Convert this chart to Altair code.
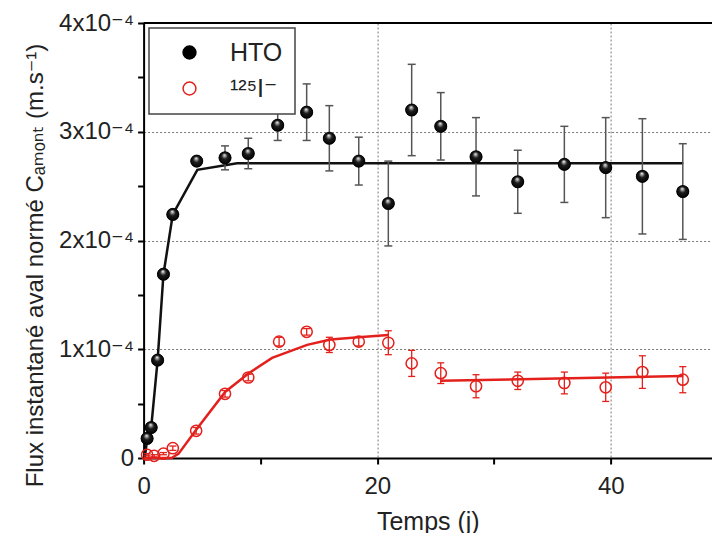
import json
import altair as alt
import pandas as pd

# ---------------- data ----------------
series_names = ["HTO", "¹²⁵I⁻"]

hto_t = [0.3, 0.65, 1.2, 1.7, 2.5, 4.55, 6.97, 8.96, 11.48, 13.96, 15.90, 18.42,
         20.95, 22.95, 25.44, 28.46, 32.03, 36.02, 39.56, 42.70, 46.16]
hto_flux = [0.18e-4, 0.28e-4, 0.90e-4, 1.69e-4, 2.24e-4, 2.73e-4, 2.76e-4, 2.80e-4,
            3.06e-4, 3.18e-4, 2.94e-4, 2.73e-4, 2.34e-4, 3.20e-4, 3.05e-4, 2.77e-4,
            2.54e-4, 2.70e-4, 2.67e-4, 2.59e-4, 2.45e-4]
hto_err = [0.0, 0.0, 0.0, 0.0, 0.0, 0.0, 0.11e-4, 0.14e-4, 0.14e-4, 0.26e-4, 0.30e-4,
           0.22e-4, 0.39e-4, 0.42e-4, 0.31e-4, 0.36e-4, 0.29e-4, 0.35e-4, 0.46e-4,
           0.53e-4, 0.44e-4]

iod_t = [0.3, 0.9, 1.7, 2.5, 4.5, 6.97, 8.96, 11.6, 13.96, 15.9, 18.42, 20.95,
         22.95, 25.44, 28.46, 32.03, 36.02, 39.56, 42.70, 46.16]
iod_flux = [0.03e-4, 0.02e-4, 0.04e-4, 0.09e-4, 0.25e-4, 0.59e-4, 0.74e-4, 1.07e-4,
            1.16e-4, 1.04e-4, 1.07e-4, 1.06e-4, 0.87e-4, 0.78e-4, 0.66e-4, 0.71e-4,
            0.69e-4, 0.65e-4, 0.79e-4, 0.72e-4]
iod_err = [0.01e-4, 0.01e-4, 0.01e-4, 0.02e-4, 0.03e-4, 0.03e-4, 0.03e-4, 0.04e-4,
           0.03e-4, 0.07e-4, 0.04e-4, 0.11e-4, 0.12e-4, 0.095e-4, 0.106e-4, 0.08e-4,
           0.10e-4, 0.13e-4, 0.15e-4, 0.12e-4]

# fitted curves
hto_fit_t = [0.1, 0.3, 0.65, 1.2, 1.7, 2.5, 4.6, 8.0, 46.2]
hto_fit_flux = [0.0, 0.17e-4, 0.28e-4, 0.90e-4, 1.69e-4, 2.24e-4, 2.65e-4, 2.71e-4, 2.71e-4]

iod_fit1_t = [0.0, 2.4, 3.0, 4.5, 7.0, 9.0, 11.0, 14.0, 16.0, 18.4, 20.95]
iod_fit1_flux = [0.0, 0.0, 0.04e-4, 0.26e-4, 0.61e-4, 0.78e-4, 0.92e-4, 1.04e-4,
                 1.09e-4, 1.11e-4, 1.13e-4]
iod_fit2_t = [25.4, 46.2]
iod_fit2_flux = [0.71e-4, 0.755e-4]

x_tick_values = [0, 10, 20, 30, 40]
y_tick_values = [0, 0.5e-4, 1e-4, 1.5e-4, 2e-4, 2.5e-4, 3e-4, 3.5e-4, 4e-4]
y_tick_labels = ["0", "1x10⁻⁴", "2x10⁻⁴", "3x10⁻⁴", "4x10⁻⁴"]

x_title = "Temps (j)"
y_title = "Flux instantané aval normé Cₐₘₒₙₜ (m.s⁻¹)"

# ---------------- tables ----------------
pts = pd.DataFrame({
    "t": hto_t + iod_t,
    "flux": hto_flux + iod_flux,
    "err": hto_err + iod_err,
    "series": [series_names[0]] * len(hto_t) + [series_names[1]] * len(iod_t),
})
pts["lo"] = pts["flux"] - pts["err"]
pts["hi"] = pts["flux"] + pts["err"]

fit_hto = pd.DataFrame({"t": hto_fit_t, "flux": hto_fit_flux})
fit_iod = pd.DataFrame({
    "t": iod_fit1_t + iod_fit2_t,
    "flux": iod_fit1_flux + iod_fit2_flux,
    "seg": ["a"] * len(iod_fit1_t) + ["b"] * len(iod_fit2_t),
})

# ---------------- styling ----------------
FONT = "Liberation Sans, Arial, DejaVu Sans, sans-serif"
TXT = "#222222"
RED = "#e3201b"
W, H = 568.4, 435
X_MAX = 48.66
Y_MAX = 4e-4

y_label_expr = ("abs(datum.value*1e4 - round(datum.value*1e4)) < 0.01 ? "
                + json.dumps(y_tick_labels, ensure_ascii=False)
                + "[round(datum.value*1e4)] : ''")

xaxis = alt.Axis(
    values=x_tick_values,
    labelExpr="datum.value % 20 == 0 ? datum.label : ''",
    tickSize=6, tickWidth=2, tickColor="black",
    domainColor="black", domainWidth=2,
    labelFont=FONT, labelFontSize=24, labelColor=TXT, labelPadding=10,
    labelFlush=False, labelOverlap=False,
    grid=True, gridColor="#7a7a7a", gridDash=[2, 2], gridWidth=1,
    gridOpacity={"condition": {"test": "datum.value == 20 || datum.value == 40", "value": 1}, "value": 0},
    titleFont=FONT, titleFontSize=25, titleFontWeight="normal", titleColor=TXT,
    titleBaseline="alphabetic", titleY=71,
)
yaxis = alt.Axis(
    values=y_tick_values,
    labelExpr=y_label_expr,
    tickSize=6, tickWidth=2, tickColor="black",
    domainColor="black", domainWidth=2,
    labelFont=FONT, labelFontSize=24, labelColor=TXT, labelPadding=4,
    labelFlush=False, labelOverlap=False,
    grid=True, gridColor="#7a7a7a", gridDash=[2, 2], gridWidth=1,
    gridOpacity={"condition": {"test": "datum.value > 0.5e-4 && datum.value < 3.5e-4 && abs(datum.value*1e4 - round(datum.value*1e4)) < 0.01", "value": 1}, "value": 0},
    titleFont=FONT, titleFontSize=24, titleFontWeight="normal", titleColor=TXT,
    titleAngle=270, titleAlign="center", titleBaseline="middle",
    titleX=-108, titleY=242,
)

xs = alt.Scale(domain=[0, X_MAX], nice=False, zero=False)
ys = alt.Scale(domain=[0, Y_MAX], nice=False)


def X(f):
    return alt.X(f, type="quantitative", scale=xs, axis=xaxis, title=x_title)


def Y(f):
    return alt.Y(f, type="quantitative", scale=ys, axis=yaxis, title=y_title)


base = alt.Chart(pts)

line_hto = alt.Chart(fit_hto).mark_line(color="#111111", strokeWidth=2.5).encode(
    x=X("t"), y=Y("flux"))
line_iod = alt.Chart(fit_iod).mark_line(color=RED, strokeWidth=2.5).encode(
    x=X("t"), y=Y("flux"), detail="seg:N")

hto_only = alt.datum.series == series_names[0]
iod_only = alt.datum.series == series_names[1]

err_hto = base.transform_filter(hto_only).mark_rule(color="#555555", strokeWidth=1.5).encode(
    x=X("t"), y=Y("lo"), y2="hi:Q")
cap_hto = base.transform_filter(hto_only).transform_filter("datum.err > 0").transform_fold(
    ["lo", "hi"], as_=["end", "val"]).mark_tick(
    orient="horizontal", size=8, thickness=1.5, color="#555555", opacity=1).encode(
    x=X("t"), y=Y("val:Q"))
err_iod = base.transform_filter(iod_only).mark_rule(color=RED, strokeWidth=1.3).encode(
    x=X("t"), y=Y("lo"), y2="hi:Q")
cap_iod = base.transform_filter(iod_only).transform_fold(
    ["lo", "hi"], as_=["end", "val"]).mark_tick(
    orient="horizontal", size=7, thickness=1.3, color=RED, opacity=1).encode(
    x=X("t"), y=Y("val:Q"))

legend = alt.Legend(
    orient="none", legendX=5.4, legendY=5, title=None, padding=12,
    symbolType="circle", symbolSize=165, symbolStrokeWidth=1.5,
    labelFont=FONT, labelFontSize=25, labelColor=TXT,
    rowPadding=10, symbolOffset=16, labelOffset=28,
    strokeColor="#444444", fillColor="white",
)

points = base.mark_point(shape="circle", size=125, strokeWidth=1.5, opacity=1).encode(
    x=X("t"), y=Y("flux"),
    fill=alt.Fill("series:N", scale=alt.Scale(domain=series_names, range=["#000000", "transparent"]),
                  legend=legend, sort=series_names),
    stroke=alt.Stroke("series:N", scale=alt.Scale(domain=series_names, range=["#000000", RED]),
                      legend=legend, sort=series_names),
)

sphere = alt.RadialGradient(
    gradient="radial",
    stops=[alt.GradientStop(offset=0, color="#ffffff"),
           alt.GradientStop(offset=0.15, color="#b0b0b0"),
           alt.GradientStop(offset=0.45, color="#1c1c1c"),
           alt.GradientStop(offset=1, color="#000000")],
    x1=0.45, y1=0.25, r1=0, x2=0.5, y2=0.5, r2=0.55,
)
spheres = base.transform_filter(hto_only).mark_point(
    shape="circle", size=150, filled=True, fill=sphere, stroke="#000000",
    strokeWidth=0.5, opacity=1).encode(x=X("t"), y=Y("flux"))

top_frame = alt.Chart(pd.DataFrame({"k": [0]})).mark_rule(color="black", strokeWidth=2).encode(
    x=alt.value(0), x2=alt.value(W), y=alt.value(0))

chart = alt.layer(
    line_hto, line_iod, err_hto, cap_hto, err_iod, cap_iod, points, spheres, top_frame
).properties(
    width=W, height=H,
    autosize=alt.AutoSizeParams(type="none"),
    padding={"left": 135.6, "top": 15, "right": 0, "bottom": 75},
    background="white",
).configure_view(stroke=None).configure_legend(strokeWidth=1.5)

chart.save("out.html", embed_options={"renderer": "svg", "actions": False})
